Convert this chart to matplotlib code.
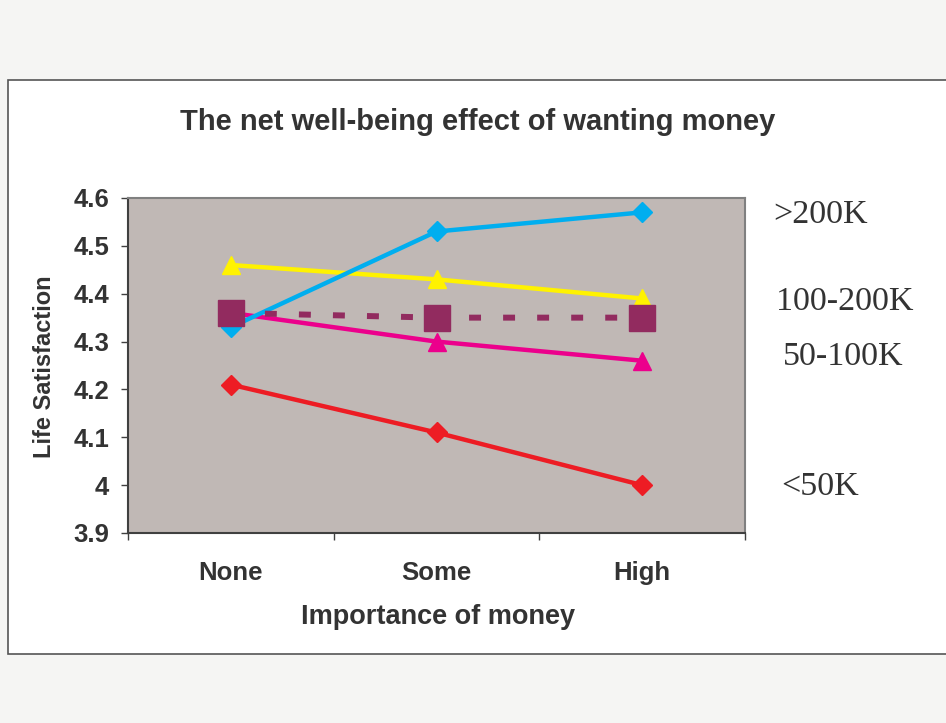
import matplotlib
matplotlib.use("Agg")
import matplotlib.pyplot as plt
from matplotlib.patches import Rectangle

categories = ["None", "Some", "High"]
over_200k = [4.33, 4.53, 4.57]
k100_200 = [4.46, 4.43, 4.39]
average = [4.36, 4.35, 4.35]
k50_100 = [4.36, 4.30, 4.26]
under_50k = [4.21, 4.11, 4.00]
y_ticks = [3.9, 4.0, 4.1, 4.2, 4.3, 4.4, 4.5, 4.6]
y_tick_labels = ["3.9", "4", "4.1", "4.2", "4.3", "4.4", "4.5", "4.6"]
series_labels = [">200K", "100-200K", "50-100K", "<50K"]

TXT = "#333333"
plt.rcParams['font.family'] = ['Liberation Sans', 'DejaVu Sans']

fig = plt.figure(figsize=(9.46, 7.23), dpi=100)
fig.patch.set_facecolor("#f5f5f3")

# white chart box
fig.patches.append(Rectangle((8/946, (723-654)/723), 1.0, 574/723,
                             transform=fig.transFigure, facecolor="white",
                             edgecolor="#555555", linewidth=1.2, zorder=-5))

ax = fig.add_axes([128/946, (723-533)/723, 617/946, 335/723])
ax.set_zorder(2)
ax.set_facecolor("#c0b8b5")
x = list(range(len(categories)))

ax.plot(x, under_50k, color="#ed1c24", lw=3.2, marker="D", ms=10.5, zorder=3)
ax.plot(x, k50_100, color="#ec008c", lw=3.2, marker="^", ms=12.5, zorder=4)
ax.plot(x, k100_200, color="#fff200", lw=3.2, marker="^", ms=12.5, zorder=5)
ax.plot(x, over_200k, color="#00aeef", lw=3.2, marker="D", ms=10.5, zorder=6)
ln, = ax.plot(x, average, color="#922b5f", lw=4.3, marker="s", ms=18.5,
              linestyle=(0, (2.0, 3.7)), zorder=7)

ax.set_xlim(-0.5, 2.5)
ax.set_ylim(3.9, 4.6)
ax.set_xticks(x)
ax.set_xticklabels(categories)
ax.set_xticks([-0.5, 0.5, 1.5, 2.5], minor=True)
ax.tick_params(axis="x", which="major", length=0, pad=20, labelsize=18.5,
               labelcolor=TXT)
ax.tick_params(axis="x", which="minor", length=5, width=1, color="#404040",
               direction="out")
ax.set_yticks(y_ticks)
ax.set_yticklabels(y_tick_labels)
ax.tick_params(axis="y", length=5, width=1, color="#404040", pad=8.5,
               labelsize=18.5, labelcolor=TXT)
for lab in ax.get_xticklabels() + ax.get_yticklabels():
    lab.set_fontweight("bold")

for s in ["left", "bottom"]:
    ax.spines[s].set_color("#404040")
    ax.spines[s].set_linewidth(1.5)
for s in ["top", "right"]:
    ax.spines[s].set_color("#808080")
    ax.spines[s].set_linewidth(1.5)

fig.text(478/946, 1 - 122/723, "The net well-being effect of wanting money",
         ha="center", va="center", fontsize=21, fontweight="bold", color=TXT)
fig.text(438/946, 1 - 617/723, "Importance of money", ha="center", va="center",
         fontsize=19.5, fontweight="bold", color=TXT)
fig.text(45/946, 1 - 367/723, "Life Satisfaction", ha="center", va="center",
         rotation=90, fontsize=17, fontweight="bold", color=TXT)

label_pos = [(773, 215), (776, 302), (783, 357), (781, 487)]
for lab, (px, py) in zip(series_labels, label_pos):
    fig.text(px/946, 1 - py/723, lab, ha="left", va="center", fontsize=24.5,
             family="Liberation Serif", color=TXT)

fig.savefig("out.png", dpi=100, facecolor=fig.get_facecolor())
